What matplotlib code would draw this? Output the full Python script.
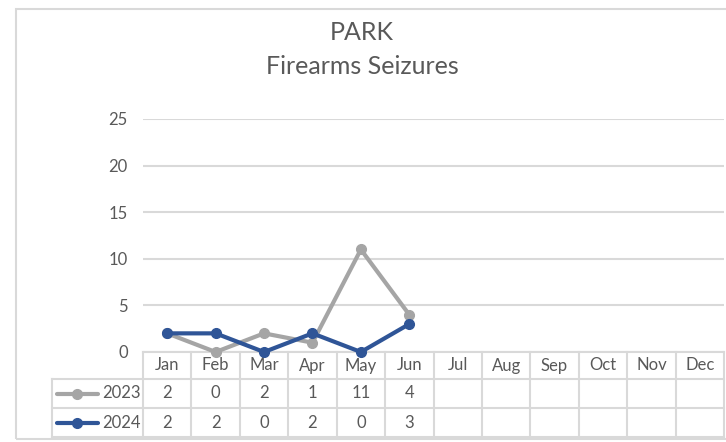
import matplotlib
matplotlib.use('Agg')
import matplotlib.pyplot as plt
import matplotlib.transforms as mtransforms
from matplotlib.patches import Rectangle
import numpy as np

months = ['Jan', 'Feb', 'Mar', 'Apr', 'May', 'Jun',
          'Jul', 'Aug', 'Sep', 'Oct', 'Nov', 'Dec']
series_names = ['2023', '2024']
vals_2023 = [2, 0, 2, 1, 11, 4]
vals_2024 = [2, 2, 0, 2, 0, 3]
yticks = [0, 5, 10, 15, 20, 25]

W, H = 726, 442
plt.rcParams['font.family'] = ['Lato', 'DejaVu Sans']
txt = '#595959'
grid = '#D9D9D9'
colors = ['#A5A5A5', '#2F5597']
fs = 12

fig = plt.figure(figsize=(W / 100, H / 100), dpi=100)


def fy(py):
    # pixel row -> figure fraction
    return 1 - py / H


# chart border
fig.patches.append(Rectangle((16 / W, fy(439)), 1.0, fy(9) - fy(439),
                             transform=fig.transFigure, fill=False,
                             edgecolor=grid, linewidth=1.5))

ax = fig.add_axes([143 / W, fy(352), (724 - 143) / W, fy(119) - fy(352)])
ax.set_xlim(0, len(months))
ax.set_ylim(0, 25)
ax.set_yticks(yticks)
ax.set_xticks([])
ax.tick_params(axis='y', length=0, pad=11, labelsize=fs, labelcolor=txt)
for s in ax.spines.values():
    s.set_visible(False)
ax.grid(axis='y', color=grid, linewidth=1.5)
ax.set_axisbelow(True)

x = np.arange(len(vals_2023)) + 0.5
for vals, c, z in zip([vals_2023, vals_2024], colors, [3, 4]):
    ax.plot(x, vals, color=c, linewidth=3, marker='o', markersize=7,
            zorder=z, clip_on=False, solid_capstyle='round')

fig.text(362 / W, fy(32), 'PARK', ha='center', va='center',
         fontsize=18, color=txt)
fig.text(362 / W, fy(66), 'Firearms Seizures', ha='center', va='center',
         fontsize=18, color=txt)

# data table below the plot
tr = mtransforms.blended_transform_factory(ax.transData, fig.transFigure)
n = len(months)
left = -(143 - 52) / 48.4
rows = [352, 379, 408, 437]
kw = dict(color=grid, linewidth=1.5, transform=tr, clip_on=False)
ax.plot([0, n], [fy(rows[0])] * 2, **kw)
for r in rows[1:]:
    ax.plot([left, n], [fy(r)] * 2, **kw)
for i in range(n + 1):
    ax.plot([i, i], [fy(rows[0]), fy(rows[-1])], **kw)
ax.plot([left, left], [fy(rows[1]), fy(rows[-1])], **kw)

for i, m in enumerate(months):
    ax.text(i + 0.5, fy((rows[0] + rows[1]) / 2), m, transform=tr,
            ha='center', va='center', fontsize=fs, color=txt)

for k, (name, vals, c) in enumerate(zip(series_names,
                                        [vals_2023, vals_2024], colors)):
    ymid = fy((rows[k + 1] + rows[k + 2]) / 2)
    for i, v in enumerate(vals):
        ax.text(i + 0.5, ymid, str(v), transform=tr, ha='center',
                va='center', fontsize=fs, color=txt)
    lx0, lx1 = -(143 - 57) / 48.4, -(143 - 98) / 48.4
    ax.plot([lx0, lx1], [ymid, ymid], color=c, linewidth=3, transform=tr,
            clip_on=False, solid_capstyle='round')
    ax.plot([(lx0 + lx1) / 2], [ymid], 'o', color=c, markersize=7,
            transform=tr, clip_on=False)
    ax.text(-(143 - 102) / 48.4, ymid, name, transform=tr, ha='left',
            va='center', fontsize=fs, color=txt)

fig.savefig('out.png', dpi=100)
